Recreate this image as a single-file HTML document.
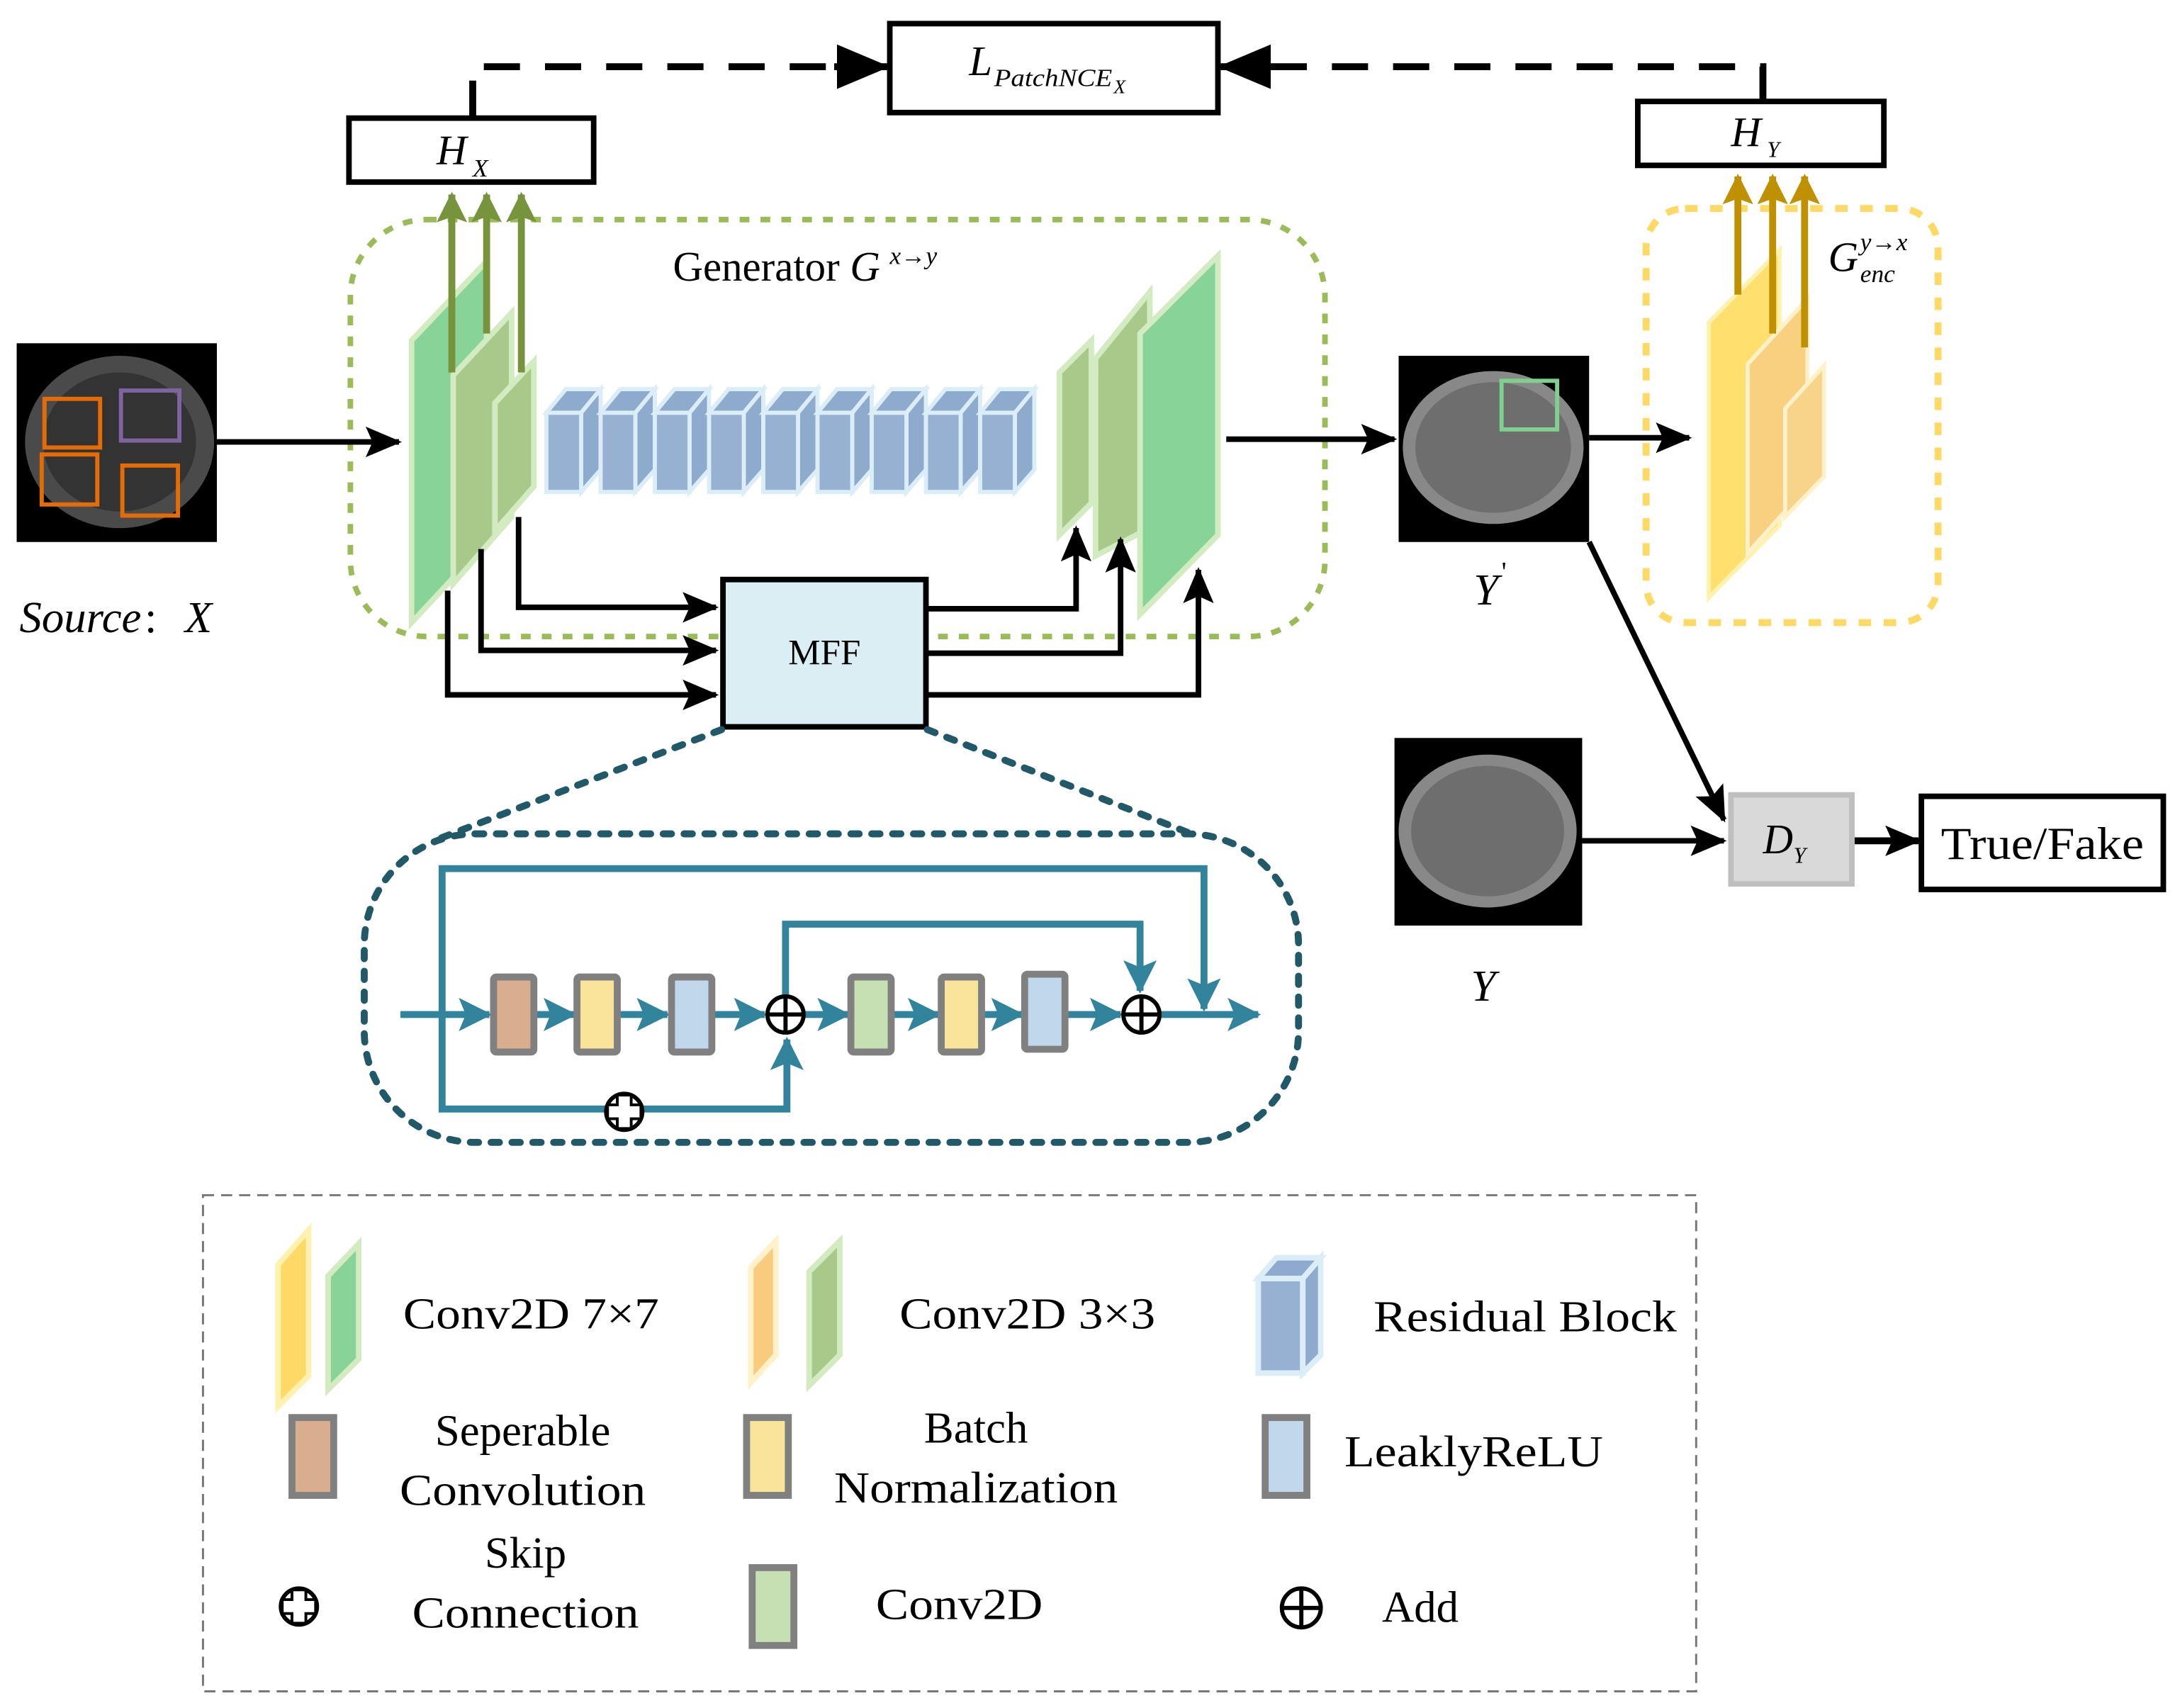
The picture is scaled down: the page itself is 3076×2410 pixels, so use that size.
<!DOCTYPE html>
<html><head><meta charset="utf-8"><style>
html,body{margin:0;padding:0;background:#fff;}
svg{display:block;}
text{font-family:"Liberation Serif",serif;}
</style></head><body>
<svg width="3076" height="2410" viewBox="0 0 1568 1229" preserveAspectRatio="none" xmlns="http://www.w3.org/2000/svg" font-family="Liberation Serif, serif">
<defs>
<marker id="abk" markerWidth="26" markerHeight="22" refX="24" refY="11" orient="auto" markerUnits="userSpaceOnUse"><path d="M0,0 L26,11 L0,22 L5,11z" fill="#000"/></marker>
<marker id="ag" markerWidth="22" markerHeight="26" refX="20" refY="11" orient="auto" markerUnits="userSpaceOnUse"><path d="M0,0 L22,11 L0,22 L4,11z" fill="#77933c"/></marker>
<marker id="ay" markerWidth="22" markerHeight="26" refX="20" refY="11" orient="auto" markerUnits="userSpaceOnUse"><path d="M0,0 L22,11 L0,22 L4,11z" fill="#bf9000"/></marker>
<marker id="at" markerWidth="24" markerHeight="24" refX="22" refY="12" orient="auto" markerUnits="userSpaceOnUse"><path d="M0,0 L24,12 L0,24 L5,12z" fill="#31849b"/></marker>
<marker id="ad" markerWidth="38" markerHeight="32" refX="36" refY="16" orient="auto" markerUnits="userSpaceOnUse"><path d="M0,0 L38,16 L0,32z" fill="#000"/></marker>
</defs>

<!-- top loss -->
<rect x="640" y="17" width="236" height="64" fill="#fff" stroke="#000" stroke-width="4"/>
<text x="697" y="54" font-size="30" font-style="italic">L</text>
<text x="715" y="62" font-size="18" font-style="italic" textLength="85" lengthAdjust="spacingAndGlyphs">PatchNCE</text>
<text x="801" y="67" font-size="14" font-style="italic">X</text>
<path d="M340,84 V48 H600" fill="none" stroke="#000" stroke-width="5" stroke-dasharray="26,18"/>
<path d="M600,48 H638" stroke="#000" stroke-width="5" marker-end="url(#ad)"/>
<path d="M1268,72 V48 H915" fill="none" stroke="#000" stroke-width="5" stroke-dasharray="26,18"/>
<path d="M915,48 H878" stroke="#000" stroke-width="5" marker-end="url(#ad)"/>

<rect x="251" y="85" width="176" height="46" fill="#fff" stroke="#000" stroke-width="4"/>
<text x="314" y="118" font-size="30" font-style="italic">H</text><text x="340" y="127" font-size="18" font-style="italic">X</text>
<rect x="1178" y="73" width="177" height="46" fill="#fff" stroke="#000" stroke-width="4"/>
<text x="1245" y="105" font-size="30" font-style="italic">H</text><text x="1271" y="113" font-size="16" font-style="italic">Y</text>

<!-- generator box -->
<rect x="252" y="158" width="701" height="300" rx="55" fill="none" stroke="#9bbb59" stroke-width="4" stroke-dasharray="7,8"/>
<text x="484" y="202" font-size="30">Generator <tspan font-style="italic">G</tspan></text>
<text x="640" y="190" font-size="18" font-style="italic">x→y</text>

<!-- encoder slabs -->
<polygon points="296,245 350,188 350,390 296,448" fill="#88d498" stroke="#d3ebc0" stroke-width="4"/>
<polygon points="326,270 368,225 368,372 326,420" fill="#a9c98a" stroke="#d3ebc0" stroke-width="4"/>
<polygon points="356,290 384,260 384,350 356,382" fill="#a9c98a" stroke="#d3ebc0" stroke-width="4"/>
<path d="M325,268 V140" stroke="#77933c" stroke-width="5" marker-end="url(#ag)"/>
<path d="M350,240 V140" stroke="#77933c" stroke-width="5" marker-end="url(#ag)"/>
<path d="M375,268 V140" stroke="#77933c" stroke-width="5" marker-end="url(#ag)"/>

<!-- residual blocks -->
<g stroke="#dbeef8" stroke-width="3">
<g id="rb"><polygon points="393,297 407,280 432,280 418,297" fill="#8eaacc"/><polygon points="418,297 432,280 432,338 418,354" fill="#8eaacc"/><rect x="393" y="297" width="25" height="57" fill="#97b1d2"/></g>
<use href="#rb" x="39"/><use href="#rb" x="78"/><use href="#rb" x="117"/><use href="#rb" x="156"/><use href="#rb" x="195"/><use href="#rb" x="234"/><use href="#rb" x="273"/><use href="#rb" x="312"/>
</g>

<!-- decoder slabs -->
<polygon points="762,268 785,245 785,362 762,385" fill="#a9c98a" stroke="#d3ebc0" stroke-width="4"/>
<polygon points="788,258 827,210 827,380 788,400" fill="#a9c98a" stroke="#d3ebc0" stroke-width="4"/>
<polygon points="820,240 876,184 876,385 820,442" fill="#88d498" stroke="#d3ebc0" stroke-width="4"/>

<!-- input image -->
<rect x="12" y="247" width="144" height="143" fill="#000"/>
<ellipse cx="86" cy="318" rx="68" ry="62" fill="#4a4a4a"/>
<ellipse cx="86" cy="318" rx="55" ry="50" fill="#333"/>
<rect x="32" y="287" width="40" height="35" fill="none" stroke="#e36c09" stroke-width="3"/>
<rect x="87" y="281" width="42" height="36" fill="none" stroke="#8064a2" stroke-width="3"/>
<rect x="30" y="327" width="40" height="36" fill="none" stroke="#e36c09" stroke-width="3"/>
<rect x="88" y="335" width="40" height="36" fill="none" stroke="#e36c09" stroke-width="3"/>
<path d="M156,318 H287" stroke="#000" stroke-width="4" marker-end="url(#abk)"/>
<text x="14" y="455" font-size="32" font-style="italic">Source</text><text x="104" y="455" font-size="32">:</text><text x="133" y="455" font-size="32" font-style="italic">X</text>

<!-- output -->
<path d="M882,316 H1003" stroke="#000" stroke-width="4" marker-end="url(#abk)"/>
<rect x="1006" y="256" width="137" height="134" fill="#000"/>
<ellipse cx="1074" cy="322" rx="65" ry="55" fill="#888"/>
<ellipse cx="1074" cy="322" rx="56" ry="47" fill="#6e6e6e"/>
<rect x="1080" y="274" width="40" height="35" fill="none" stroke="#7fcf8f" stroke-width="3"/>
<text x="1060" y="435" font-size="32" font-style="italic">Y</text><text x="1080" y="418" font-size="20">'</text>
<path d="M1143,315 H1215" stroke="#000" stroke-width="4" marker-end="url(#abk)"/>

<rect x="1003" y="531" width="135" height="135" fill="#000"/>
<ellipse cx="1070" cy="598" rx="64" ry="55" fill="#888"/>
<ellipse cx="1070" cy="598" rx="55" ry="47" fill="#6e6e6e"/>
<text x="1058" y="720" font-size="32" font-style="italic">Y</text>

<!-- yellow encoder -->
<rect x="1184" y="150" width="210" height="298" rx="28" fill="none" stroke="#ffd966" stroke-width="5" stroke-dasharray="9,9"/>
<polygon points="1229,232 1280,180 1280,378 1229,430" fill="#ffdf6e" stroke="#fff2b0" stroke-width="3"/>
<polygon points="1257,262 1300,215 1300,350 1257,398" fill="#f8d080" stroke="#fff2c8" stroke-width="3"/>
<polygon points="1284,294 1312,263 1312,343 1284,372" fill="#f8d38a" stroke="#fff2c8" stroke-width="3"/>
<path d="M1250,212 V127" stroke="#bf9000" stroke-width="5" marker-end="url(#ay)"/>
<path d="M1275,240 V127" stroke="#bf9000" stroke-width="5" marker-end="url(#ay)"/>
<path d="M1298,250 V127" stroke="#bf9000" stroke-width="5" marker-end="url(#ay)"/>
<text x="1315" y="195" font-size="30" font-style="italic">G</text>
<text x="1338" y="180" font-size="18" font-style="italic">y→x</text>
<text x="1338" y="203" font-size="18" font-style="italic">enc</text>

<!-- discriminator -->
<path d="M1143,390 L1240,590" stroke="#000" stroke-width="4" marker-end="url(#abk)"/>
<path d="M1138,605 H1240" stroke="#000" stroke-width="4" marker-end="url(#abk)"/>
<rect x="1245" y="572" width="87" height="64" fill="#d9d9d9" stroke="#bfbfbf" stroke-width="4"/>
<text x="1268" y="614" font-size="30" font-style="italic">D</text><text x="1290" y="621" font-size="16" font-style="italic">Y</text>
<path d="M1334,605 H1380" stroke="#000" stroke-width="5" marker-end="url(#abk)"/>
<rect x="1382" y="573" width="174" height="67" fill="#fff" stroke="#000" stroke-width="4"/>
<text x="1396" y="618" font-size="33" textLength="146" lengthAdjust="spacingAndGlyphs">True/Fake</text>

<!-- MFF and connectors -->
<g stroke="#000" stroke-width="4" fill="none">
<path d="M373,372 V437 H515" marker-end="url(#abk)"/>
<path d="M346,395 V468 H515" marker-end="url(#abk)"/>
<path d="M322,425 V500 H515" marker-end="url(#abk)"/>
<path d="M667,438 H774 V380" marker-end="url(#abk)"/>
<path d="M667,470 H806 V388" marker-end="url(#abk)"/>
<path d="M667,500 H862 V410" marker-end="url(#abk)"/>
</g>
<rect x="520" y="417" width="146" height="106" fill="#daeef3" stroke="#000" stroke-width="4"/>
<text x="593" y="478" font-size="26" text-anchor="middle">MFF</text>

<!-- MFF detail -->
<g stroke="#215968" stroke-width="5" fill="none" stroke-dasharray="6,9" stroke-linecap="round">
<path d="M519,525 L312,605"/>
<path d="M667,525 L862,602"/>
<rect x="262" y="600" width="672" height="222" rx="80"/>
</g>
<g stroke="#31849b" stroke-width="5" fill="none">
<path d="M318,730 V625 H866 V726" marker-end="url(#at)"/>
<path d="M565,716 V665 H820 V713" marker-end="url(#at)"/>
<path d="M318,730 V798 H566 V748" marker-end="url(#at)"/>
<path d="M288,730 H352" marker-end="url(#at)"/>
<path d="M385,730 H413" marker-end="url(#at)"/>
<path d="M445,730 H480" marker-end="url(#at)"/>
<path d="M513,730 H550" marker-end="url(#at)"/>
<path d="M579,730 H610" marker-end="url(#at)"/>
<path d="M642,730 H675" marker-end="url(#at)"/>
<path d="M707,730 H735" marker-end="url(#at)"/>
<path d="M767,730 H806" marker-end="url(#at)"/>
<path d="M835,730 H905" marker-end="url(#at)"/>
</g>
<g stroke="#808080" stroke-width="5">
<rect x="355" y="703" width="29" height="54" rx="2" fill="#d9ae8e"/>
<rect x="415" y="703" width="29" height="54" rx="2" fill="#f9e49a"/>
<rect x="483" y="703" width="29" height="54" rx="2" fill="#c0d7ec"/>
<rect x="612" y="703" width="29" height="54" rx="2" fill="#c6e0b4"/>
<rect x="677" y="703" width="29" height="54" rx="2" fill="#f9e49a"/>
<rect x="737" y="701" width="29" height="54" rx="2" fill="#c0d7ec"/>
</g>
<g stroke="#000" stroke-width="3" fill="#fff">
<circle cx="565" cy="730" r="13"/><path d="M552,730 H578 M565,717 V743"/>
<circle cx="821" cy="730" r="13"/><path d="M808,730 H834 M821,717 V743"/>
</g>
<g>
<circle cx="449" cy="800" r="13" fill="#fff" stroke="#000" stroke-width="3"/>
<path d="M444,788 V795 H437 V805 H444 V812 H454 V805 H461 V795 H454 V788 Z" fill="#fff" stroke="#000" stroke-width="2"/>
</g>

<!-- legend -->
<rect x="146" y="860" width="1074" height="357" fill="none" stroke="#777" stroke-width="1.5" stroke-dasharray="8,5"/>
<polygon points="200,910 222,885 222,990 200,1012" fill="#ffd966" stroke="#fff2b0" stroke-width="4"/>
<polygon points="236,918 258,895 258,978 236,1000" fill="#88d498" stroke="#d3ebc0" stroke-width="4"/>
<text x="290" y="956" font-size="32" textLength="184" lengthAdjust="spacingAndGlyphs">Conv2D 7×7</text>
<polygon points="540,912 558,893 558,975 540,995" fill="#f8cb7e" stroke="#fff2c8" stroke-width="4"/>
<polygon points="582,915 604,893 604,975 582,997" fill="#a9c98a" stroke="#d3ebc0" stroke-width="4"/>
<text x="647" y="956" font-size="32" textLength="184" lengthAdjust="spacingAndGlyphs">Conv2D 3×3</text>
<g stroke="#dbeef8" stroke-width="4"><polygon points="905,920 918,905 950,905 937,920" fill="#8eaacc"/><polygon points="937,920 950,905 950,975 937,988" fill="#8eaacc"/><rect x="905" y="920" width="32" height="68" fill="#97b1d2"/></g>
<text x="988" y="958" font-size="32" textLength="218" lengthAdjust="spacingAndGlyphs">Residual Block</text>
<g stroke="#808080" stroke-width="5">
<rect x="210" y="1020" width="30" height="56" fill="#d9ae8e"/>
<rect x="537" y="1020" width="30" height="56" fill="#f9e49a"/>
<rect x="910" y="1020" width="30" height="56" fill="#c0d7ec"/>
<rect x="541" y="1128" width="30" height="56" fill="#c6e0b4"/>
</g>
<text x="376" y="1040" font-size="32" text-anchor="middle">Seperable</text>
<text x="376" y="1083" font-size="32" text-anchor="middle" textLength="177" lengthAdjust="spacingAndGlyphs">Convolution</text>
<text x="702" y="1038" font-size="32" text-anchor="middle">Batch</text>
<text x="702" y="1081" font-size="32" text-anchor="middle" textLength="204" lengthAdjust="spacingAndGlyphs">Normalization</text>
<text x="967" y="1055" font-size="32" textLength="186" lengthAdjust="spacingAndGlyphs">LeaklyReLU</text>
<text x="378" y="1128" font-size="32" text-anchor="middle">Skip</text>
<text x="378" y="1171" font-size="32" text-anchor="middle" textLength="163" lengthAdjust="spacingAndGlyphs">Connection</text>
<text x="630" y="1165" font-size="32" textLength="120" lengthAdjust="spacingAndGlyphs">Conv2D</text>
<text x="994" y="1167" font-size="32">Add</text>
<circle cx="215" cy="1156" r="13" fill="#fff" stroke="#000" stroke-width="3"/>
<path d="M210,1144 V1151 H203 V1161 H210 V1168 H220 V1161 H227 V1151 H220 V1144 Z" fill="#fff" stroke="#000" stroke-width="2"/>
<g stroke="#000" stroke-width="3" fill="none"><circle cx="936" cy="1157" r="14"/><path d="M922,1157 H950 M936,1143 V1171"/></g>
</svg>
</body></html>
